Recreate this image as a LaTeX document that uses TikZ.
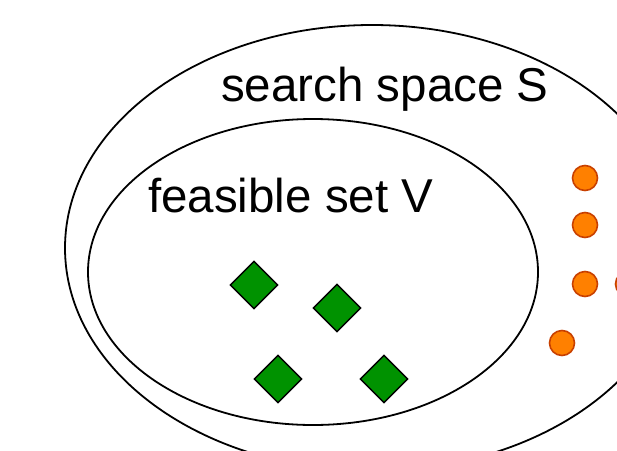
\documentclass[tikz,border=0pt]{standalone}
\usepackage{fontspec}
\setmainfont{Liberation Sans}
\usetikzlibrary{shapes.geometric}
\definecolor{feasgreen}{RGB}{0,146,0}
\definecolor{inforange}{RGB}{255,128,0}
\definecolor{infborder}{RGB}{200,64,0}
\begin{document}
\begin{tikzpicture}[x=1pt,y=-1pt,
  setline/.style={line width=1.8pt, draw=black},
  feas/.style={shape=diamond, draw=black, fill=feasgreen, line width=1.4pt, minimum width=48pt, minimum height=48pt, inner sep=0pt},
  infeas/.style={shape=circle, draw=infborder, fill=inforange, line width=1.6pt, minimum size=25pt, inner sep=0pt},
  lbl/.style={font=\fontsize{47.5}{52}\selectfont, anchor=base west, inner sep=0pt}]
\path[use as bounding box] (0,0) rectangle (617,450);
\clip (0,0) rectangle (617,450);
\draw[setline] (372,248) ellipse [x radius=307, y radius=223];
\draw[setline] (313,272) ellipse [x radius=225, y radius=153];
\node[lbl] (S) at (221,101) {search space S};
\node[lbl] (V) at (148,212) {feasible set V};
\node[feas] (d1) at (254,285) {};
\node[feas] (d2) at (337,308) {};
\node[feas] (d3) at (278,379) {};
\node[feas] (d4) at (384,379) {};
\node[infeas] (c1) at (585,178) {};
\node[infeas] (c2) at (585,225) {};
\node[infeas] (c3) at (585,284) {};
\node[infeas] (c4) at (562,343) {};
\node[infeas] (c5) at (628,284) {};
\end{tikzpicture}
\end{document}
